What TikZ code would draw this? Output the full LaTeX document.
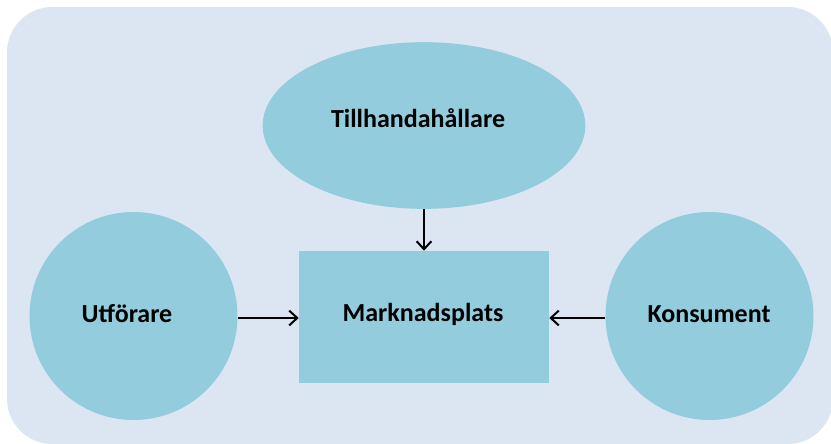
\documentclass[tikz,border=0pt]{standalone}
\usepackage{fontspec}
\setmainfont{Carlito}
\usetikzlibrary{shapes.geometric,arrows.meta}
\definecolor{bgblue}{HTML}{DCE6F2}
\definecolor{teal}{HTML}{93CDDD}
\tikzset{
  px/.style={x=0.75pt,y=-0.75pt},
  shapefill/.style={fill=teal,draw=none,text=black},
  lbl/.style={font=\fontsize{19.5}{23}\selectfont\bfseries,text=black},
  conn/.style={line width=1.5pt,-{Straight Barb[length=6pt,width=11pt,line width=1.5pt]}}
}
\begin{document}
\begin{tikzpicture}[px]
\useasboundingbox (0,0) rectangle (831,443);
\fill[bgblue,rounded corners=34pt] (7,7) rectangle (833,444);
\node[shapefill,ellipse,minimum width=242pt,minimum height=125pt,inner sep=0pt] (tillh) at (424,125.5) {};
\node[shapefill,circle,minimum size=156pt,inner sep=0pt] (utf) at (133.5,316) {};
\node[shapefill,circle,minimum size=156pt,inner sep=0pt] (kons) at (709.5,316) {};
\node[shapefill,rectangle,minimum width=187.5pt,minimum height=99pt,inner sep=0pt] (mark) at (424,317) {};
\node[lbl] (tl) at (418,118) {Tillhandahållare};
\node[lbl] (ul) at (127,314) {Utförare};
\node[lbl] (kl) at (709,314) {Konsument};
\node[lbl] (ml) at (423,314) {Marknadsplats};
\draw[conn] (utf.east |- 0,318) coordinate (a1) -- (mark.west |- a1);
\draw[conn] (kons.west |- 0,318) coordinate (a2) -- (mark.east |- a2);
\draw[conn] (tillh.south) -- (mark.north);
\end{tikzpicture}
\end{document}
